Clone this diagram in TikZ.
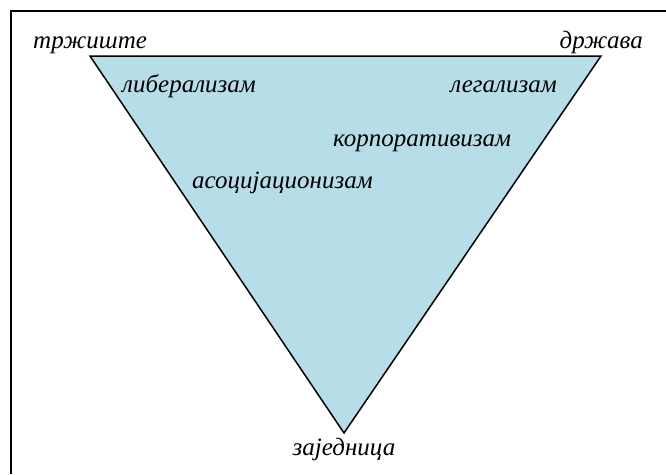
\documentclass[tikz,border=0pt]{standalone}
\usepackage{fontspec}
\setmainfont{Liberation Serif}
\definecolor{triblue}{HTML}{B7DDE8}
\begin{document}
\begin{tikzpicture}[x=1pt,y=-1pt,
    lbl/.style={font=\itshape\fontsize{25}{30}\selectfont, inner sep=0pt}]
                    \useasboundingbox (0,0) rectangle (666,474);
                    % Frame
                    \draw[line width=2pt] (11,474) -- (11,11) -- (666,11);
                    % Vertices
                    \coordinate (market) at (90,56);
                    \coordinate (state) at (601,56);
                    \coordinate (community) at (344,433);
                    \filldraw[fill=triblue, line width=1.5pt] (market) -- (state) -- (community) -- cycle;
                    % Nodes
                    \node[lbl, anchor=base west] (m) at (33,48) {тржиште};
                    \node[lbl, anchor=base east] (s) at (643,48) {држава};
                    \node[lbl, anchor=base] (c) at (344,455) {заједница};
                    \node[lbl, anchor=base west] (lib) at (122,92) {либерализам};
                    \node[lbl, anchor=base east] (leg) at (557,92) {легализам};
                    \node[lbl, anchor=base west] (corp) at (333,146) {корпоративизам};
                    \node[lbl, anchor=base west] (assoc) at (192,188) {асоцијационизам};
                \end{tikzpicture}
\end{document}
